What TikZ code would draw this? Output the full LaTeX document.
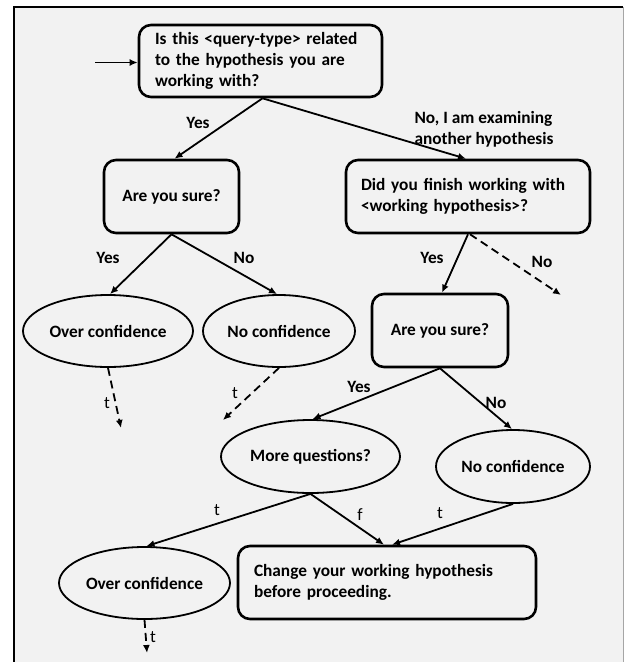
\documentclass[tikz,border=0pt]{standalone}
\usepackage{fontspec}
\setmainfont{Carlito}
\usetikzlibrary{shapes.geometric,arrows.meta,calc}
\definecolor{bg}{HTML}{F2F2F2}
\begin{document}
\begin{tikzpicture}[x=1pt,y=-1pt,
  every node/.style={font=\fontsize{17.3}{21}\selectfont\bfseries},
  rbox/.style={draw, line width=2.6pt, rounded corners=12pt, inner sep=0pt},
  oval/.style={draw, ellipse, line width=1.8pt, inner sep=0pt},
  arr/.style={line width=1.8pt, -{Latex[length=8pt,width=7pt]}},
  darr/.style={arr, dash pattern=on 8pt off 5pt},
  lbl/.style={inner sep=0pt},
  tlbl/.style={inner sep=0pt, font=\fontsize{17.3}{21}\selectfont}
]
\useasboundingbox (0,0) rectangle (624,662);
\fill[white] (0,0) rectangle (624,662);
\fill[bg] (14,7) rectangle (624,662);
\draw[line width=2pt] (14,662) -- (14,7) -- (623,7);
\draw[line width=1pt, black!35] (623,7) -- (623,662);

\node[rbox, minimum width=243pt, minimum height=72pt, text width=211pt, align=left] (q1) at (260.5,61) {Is this <query-type> related\\to the hypothesis you are\\working with?};
\node[rbox, minimum width=135pt, minimum height=73pt] (s1) at (171.5,196.5) {Are you sure?};
\node[rbox, minimum width=244pt, minimum height=73pt, text width=214pt, align=left] (d1) at (468,196.5) {Did you finish working with\\<working hypothesis>?};
\node[oval, minimum width=170pt, minimum height=72pt] (oc1) at (108,331) {Over confidence};
\node[oval, minimum width=152pt, minimum height=72pt] (nc1) at (279,331) {No confidence};
\node[rbox, minimum width=136pt, minimum height=73pt] (s2) at (440,330.5) {Are you sure?};
\node[oval, minimum width=179pt, minimum height=73pt] (mq) at (310.5,456.5) {More questions?};
\node[oval, minimum width=154pt, minimum height=73pt] (nc2) at (513,466.5) {No confidence};
\node[oval, minimum width=171pt, minimum height=72pt] (oc2) at (144.5,583) {Over confidence};
\node[rbox, minimum width=298pt, minimum height=73pt, text width=266pt, align=left] (ch) at (387,582.5) {Change your working hypothesis\\before proceeding.};

\coordinate (in) at (95,62.5);
\coordinate (dn) at (561,295);
\coordinate (e1) at (121,428);
\coordinate (e2) at (223,420);
\coordinate (e3) at (147,653);

\draw[arr] (in) -- (in -| q1.west);
\draw[arr] ([xshift=2pt]q1.south) -- ([xshift=3pt]s1.north);
\draw[arr] ([xshift=2pt]q1.south) -- ([xshift=-2pt]d1.north);
\draw[arr] (s1.south) -- ([xshift=2pt]oc1.north);
\draw[arr] (s1.south) -- ([xshift=-2pt]nc1.north);
\draw[arr] (d1.south) -- ([xshift=2pt]s2.north);
\draw[darr] ([xshift=2pt]d1.south) -- (dn);
\draw[darr] (oc1.south) -- (e1);
\draw[darr] (nc1.south) -- (e2);
\draw[arr] (s2.south) -- ([xshift=2pt]mq.north);
\draw[arr] (s2.south) -- ([xshift=-1pt]nc2.north);
\draw[arr] (mq.south) -- ([xshift=2pt]oc2.north);
\draw[arr] (mq.south) -- ([xshift=-3pt]ch.north);
\draw[arr] (nc2.south) -- ([xshift=5pt]ch.north);
\draw[darr] (oc2.south) -- (e3);

\node[lbl] (l1) at (198,123) {Yes};
\node[lbl, align=left] (l2) at (484,129) {No, I am examining\\another hypothesis};
\node[lbl] (l3) at (108,258) {Yes};
\node[lbl] (l4) at (244,258) {No};
\node[lbl] (l5) at (432,258) {Yes};
\node[lbl] (l6) at (542,262) {No};
\node[lbl] (l7) at (359,387) {Yes};
\node[lbl] (l8) at (496,403) {No};
\node[tlbl] (t1) at (107,403) {t};
\node[tlbl] (t2) at (235,393) {t};
\node[tlbl] (t3) at (217,510) {t};
\node[tlbl] (t4) at (360,515) {f};
\node[tlbl] (t5) at (440,513) {t};
\node[tlbl] (t6) at (153,637) {t};
\end{tikzpicture}
\end{document}
